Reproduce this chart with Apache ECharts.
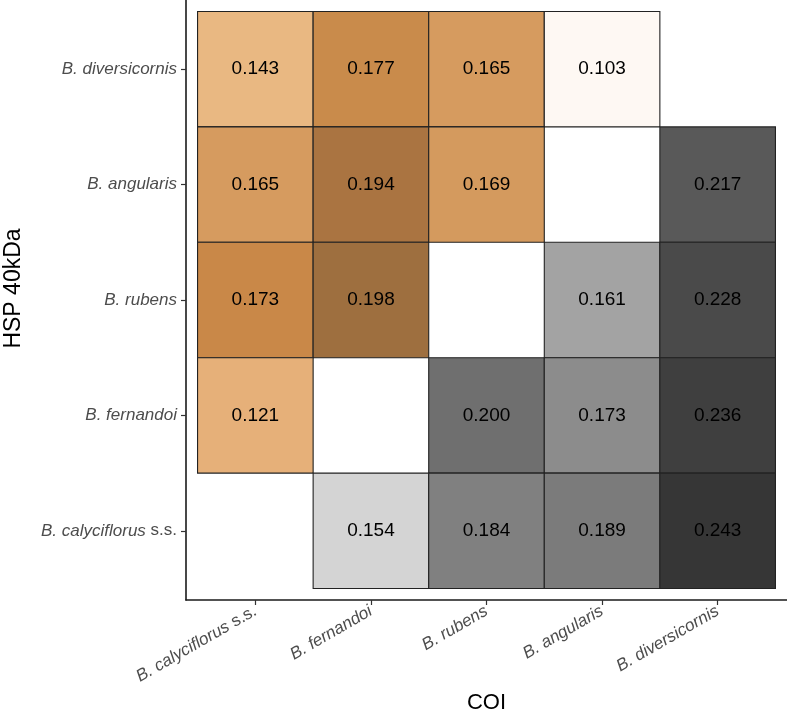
<!DOCTYPE html>
<html>
<head>
<meta charset="utf-8">
<script src="https://cdn.jsdelivr.net/npm/echarts@6/dist/echarts.min.js"></script>
<style>
html,body{margin:0;padding:0;background:#fff;}
#chart{width:787px;height:718px;}
</style>
</head>
<body>
<div id="chart"></div>
<script>
// Categories (same order on both axes: index 0 = left / bottom)
const species = ['B. calyciflorus', 'B. fernandoi', 'B. rubens', 'B. angularis', 'B. diversicornis'];
const speciesSuffix = ['s.s.', '', '', '', ''];
const xTitle = 'COI';
const yTitle = 'HSP 40kDa';

// HSP 40kDa distances (upper-left triangle): [column index, row index, value]
const hspCells = [
  [0, 4, 0.143], [1, 4, 0.177], [2, 4, 0.165], [3, 4, 0.103],
  [0, 3, 0.165], [1, 3, 0.194], [2, 3, 0.169],
  [0, 2, 0.173], [1, 2, 0.198],
  [0, 1, 0.121]
];
// COI distances (lower-right triangle): [column index, row index, value]
const coiCells = [
  [4, 3, 0.217],
  [3, 2, 0.161], [4, 2, 0.228],
  [2, 1, 0.200], [3, 1, 0.173], [4, 1, 0.236],
  [1, 0, 0.154], [2, 0, 0.184], [3, 0, 0.189], [4, 0, 0.243]
];

// colour scales (value stop -> colour)
const hspScale = [[0.103, '#fef8f3'], [0.121, '#e6b079'], [0.143, '#e9b882'], [0.165, '#d69b5f'],
  [0.169, '#d49a5e'], [0.173, '#c98848'], [0.177, '#c98b4b'], [0.194, '#aa7441'], [0.198, '#9e6f3f']];
const coiScale = [[0.150, '#e0e0e0'], [0.154, '#d4d4d4'], [0.161, '#a3a3a3'], [0.173, '#8c8c8c'],
  [0.184, '#808080'], [0.189, '#7b7b7b'], [0.200, '#6f6f6f'], [0.217, '#595959'], [0.228, '#4a4a4a'],
  [0.236, '#3f3f3f'], [0.243, '#363636']];

function colorFor(v, scale) {
  if (v <= scale[0][0]) return scale[0][1];
  for (let i = 1; i < scale.length; i++) {
    if (v <= scale[i][0]) {
      const t = (v - scale[i - 1][0]) / (scale[i][0] - scale[i - 1][0]);
      return echarts.color.lerp(t, [scale[i - 1][1], scale[i][1]]);
    }
  }
  return scale[scale.length - 1][1];
}

const FONT = '"Liberation Sans", Arial, Helvetica, sans-serif';
const ticks = species.map((_, i) => i + 1);

function labelFor(v) {
  const i = Math.round(v) - 1;
  if (i < 0 || i >= species.length) return '';
  return speciesSuffix[i] ? '{i|' + species[i] + '}{n| ' + speciesSuffix[i] + '}' : '{i|' + species[i] + '}';
}
const rich = {
  i: {fontStyle: 'italic', fontSize: 17, color: '#4d4d4d', fontFamily: FONT},
  n: {fontStyle: 'normal', fontSize: 17, color: '#4d4d4d', fontFamily: FONT}
};

function makeSeries(cells, scale) {
  return {
    type: 'custom',
    coordinateSystem: 'cartesian2d',
    data: cells.map(c => [c[0] + 1, c[1] + 1, c[2]]),
    renderItem: function (params, api) {
      const x = api.value(0), y = api.value(1), v = api.value(2);
      const p = api.coord([x - 0.5, y + 0.5]);
      const s = api.size([1, 1]);
      const c = api.coord([x, y]);
      return {
        type: 'group',
        children: [
          {type: 'rect', shape: {x: p[0], y: p[1], width: s[0], height: s[1]},
           style: {fill: colorFor(v, scale), stroke: '#222', lineWidth: 1.1}},
          {type: 'text', x: c[0], y: c[1],
           style: {text: v.toFixed(3), fill: '#000', font: '19px ' + FONT, align: 'center', verticalAlign: 'middle'}}
        ]
      };
    }
  };
}

const chart = echarts.init(document.getElementById('chart'), null, {renderer: 'canvas'});
chart.setOption({
  animation: false,
  backgroundColor: '#fff',
  grid: {left: 186, right: 0, top: 0, bottom: 118, outerBoundsMode: 'none', containLabel: false},
  xAxis: {
    type: 'value', min: 0.4, max: 5.6,
    name: xTitle, nameLocation: 'middle', nameGap: 85,
    nameTextStyle: {fontSize: 22, color: '#000', fontFamily: FONT},
    splitLine: {show: false},
    axisLine: {show: true, onZero: false, lineStyle: {color: '#1a1a1a', width: 1.6}},
    axisTick: {show: true, customValues: ticks, length: 5, lineStyle: {color: '#333', width: 1.2}},
    axisLabel: {customValues: ticks, rotate: 30, margin: 10, formatter: labelFor, rich: rich}
  },
  yAxis: {
    type: 'value', min: 0.4, max: 5.6,
    name: yTitle, nameLocation: 'middle', nameGap: 161, nameRotate: 90,
    nameTextStyle: {fontSize: 23, color: '#000', fontFamily: FONT, padding: [0, 0, 0, 23]},
    splitLine: {show: false},
    axisLine: {show: true, onZero: false, lineStyle: {color: '#1a1a1a', width: 1.6}},
    axisTick: {show: true, customValues: ticks, length: 5, lineStyle: {color: '#333', width: 1.2}},
    axisLabel: {customValues: ticks, margin: 9, formatter: labelFor, rich: rich}
  },
  series: [makeSeries(hspCells, hspScale), makeSeries(coiCells, coiScale)]
});
</script>
</body>
</html>
